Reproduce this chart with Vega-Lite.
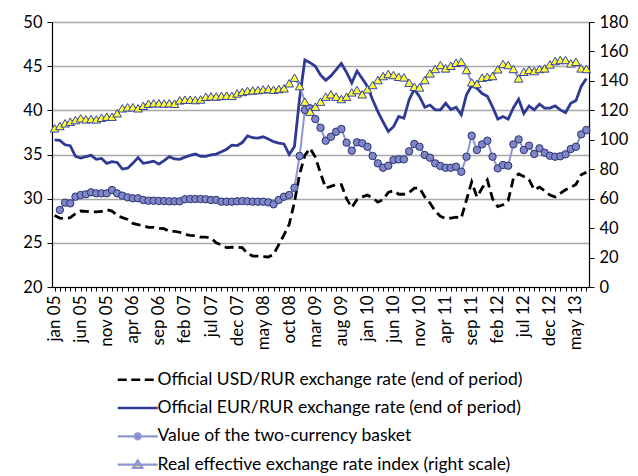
{
  "$schema": "https://vega.github.io/schema/vega-lite/v6.json",
  "width": 537,
  "height": 265,
  "autosize": {"type": "none"},
  "padding": {"left": 52, "top": 22, "right": 49, "bottom": 189},
  "background": "white",
  "config": {
    "view": {"stroke": null},
    "font": "Lato",
    "axis": {"labelFont": "Lato", "labelColor": "black", "domainColor": "black", "tickColor": "black", "titleFont": "Lato"}
  },
  "data": {
    "values": [
      {"m": "jan 05", "u": 28.1, "e": 36.65, "r": 107.8},
      {"m": "feb 05", "u": 27.8, "e": 36.6, "b": 28.72, "r": 109.4},
      {"m": "mar 05", "u": 27.75, "e": 36.1, "b": 29.55, "r": 111.2},
      {"m": "apr 05", "u": 27.85, "e": 36.0, "b": 29.47, "r": 112.3},
      {"m": "may 05", "u": 28.3, "e": 34.8, "b": 30.22, "r": 113.4},
      {"m": "jun 05", "u": 28.6, "e": 34.6, "b": 30.41, "r": 114.6},
      {"m": "jul 05", "u": 28.55, "e": 34.75, "b": 30.49, "r": 113.9},
      {"m": "aug 05", "u": 28.5, "e": 34.9, "b": 30.72, "r": 114.1},
      {"m": "sep 05", "u": 28.5, "e": 34.45, "b": 30.6, "r": 113.9},
      {"m": "oct 05", "u": 28.55, "e": 34.55, "b": 30.6, "r": 115.0},
      {"m": "nov 05", "u": 28.75, "e": 34.0, "b": 30.6, "r": 115.7},
      {"m": "dec 05", "u": 28.6, "e": 34.2, "b": 30.98, "r": 115.7},
      {"m": "jan 06", "u": 28.1, "e": 34.1, "b": 30.6, "r": 118.0},
      {"m": "feb 06", "u": 27.85, "e": 33.35, "b": 30.34, "r": 121.4},
      {"m": "mar 06", "u": 27.65, "e": 33.45, "b": 30.15, "r": 122.1},
      {"m": "apr 06", "u": 27.2, "e": 34.0, "b": 30.04, "r": 122.1},
      {"m": "may 06", "u": 27.05, "e": 34.65, "b": 30.04, "r": 121.4},
      {"m": "jun 06", "u": 26.95, "e": 34.0, "b": 29.85, "r": 123.1},
      {"m": "jul 06", "u": 26.75, "e": 34.1, "b": 29.77, "r": 124.5},
      {"m": "aug 06", "u": 26.75, "e": 34.25, "b": 29.77, "r": 124.8},
      {"m": "sep 06", "u": 26.65, "e": 33.9, "b": 29.75, "r": 124.8},
      {"m": "oct 06", "u": 26.6, "e": 34.3, "b": 29.73, "r": 124.6},
      {"m": "nov 06", "u": 26.3, "e": 34.75, "b": 29.7, "r": 124.8},
      {"m": "dec 06", "u": 26.3, "e": 34.5, "b": 29.7, "r": 124.5},
      {"m": "jan 07", "u": 26.2, "e": 34.45, "b": 29.7, "r": 126.8},
      {"m": "feb 07", "u": 25.95, "e": 34.7, "b": 29.93, "r": 127.2},
      {"m": "mar 07", "u": 25.85, "e": 34.9, "b": 29.96, "r": 127.2},
      {"m": "apr 07", "u": 25.8, "e": 35.05, "b": 29.96, "r": 127.0},
      {"m": "may 07", "u": 25.65, "e": 34.8, "b": 29.96, "r": 127.4},
      {"m": "jun 07", "u": 25.65, "e": 34.8, "b": 29.93, "r": 129.2},
      {"m": "jul 07", "u": 25.55, "e": 34.95, "b": 29.85, "r": 129.5},
      {"m": "aug 07", "u": 25.0, "e": 35.05, "b": 29.85, "r": 129.4},
      {"m": "sep 07", "u": 24.75, "e": 35.3, "b": 29.66, "r": 129.8},
      {"m": "oct 07", "u": 24.45, "e": 35.6, "b": 29.66, "r": 130.0},
      {"m": "nov 07", "u": 24.5, "e": 36.05, "b": 29.66, "r": 129.8},
      {"m": "dec 07", "u": 24.5, "e": 36.0, "b": 29.7, "r": 131.5},
      {"m": "jan 08", "u": 24.45, "e": 36.35, "b": 29.73, "r": 132.5},
      {"m": "feb 08", "u": 23.8, "e": 37.1, "b": 29.7, "r": 133.2},
      {"m": "mar 08", "u": 23.5, "e": 36.9, "b": 29.66, "r": 133.5},
      {"m": "apr 08", "u": 23.5, "e": 36.85, "b": 29.66, "r": 133.8},
      {"m": "may 08", "u": 23.45, "e": 37.0, "b": 29.66, "r": 134.2},
      {"m": "jun 08", "u": 23.4, "e": 36.75, "b": 29.58, "r": 134.5},
      {"m": "jul 08", "u": 23.7, "e": 36.45, "b": 29.36, "r": 134.0},
      {"m": "aug 08", "u": 24.8, "e": 36.3, "b": 29.85, "r": 134.5},
      {"m": "sep 08", "u": 25.9, "e": 36.2, "b": 30.22, "r": 135.0},
      {"m": "oct 08", "u": 27.1, "e": 35.0, "b": 30.41, "r": 138.4},
      {"m": "nov 08", "u": 29.6, "e": 35.9, "b": 31.24, "r": 142.2},
      {"m": "dec 08", "u": 32.8, "e": 41.4, "b": 34.83, "r": 136.5},
      {"m": "jan 09", "u": 34.9, "e": 45.7, "b": 40.04, "r": 125.9},
      {"m": "feb 09", "u": 35.7, "e": 45.4, "b": 40.23, "r": 119.1},
      {"m": "mar 09", "u": 34.7, "e": 45.0, "b": 39.02, "r": 122.5},
      {"m": "apr 09", "u": 32.9, "e": 44.0, "b": 38.03, "r": 125.9},
      {"m": "may 09", "u": 31.2, "e": 43.4, "b": 36.56, "r": 129.3},
      {"m": "jun 09", "u": 31.4, "e": 43.9, "b": 37.01, "r": 130.9},
      {"m": "jul 09", "u": 31.6, "e": 44.6, "b": 37.58, "r": 129.3},
      {"m": "aug 09", "u": 31.6, "e": 45.3, "b": 37.89, "r": 127.7},
      {"m": "sep 09", "u": 30.0, "e": 44.3, "b": 36.34, "r": 129.3},
      {"m": "oct 09", "u": 29.0, "e": 43.1, "b": 35.43, "r": 132.2},
      {"m": "nov 09", "u": 29.9, "e": 44.45, "b": 36.38, "r": 133.8},
      {"m": "dec 09", "u": 30.2, "e": 43.6, "b": 36.27, "r": 130.9},
      {"m": "jan 10", "u": 30.4, "e": 42.7, "b": 35.88, "r": 134.3},
      {"m": "feb 10", "u": 30.1, "e": 41.2, "b": 34.83, "r": 137.2},
      {"m": "mar 10", "u": 29.6, "e": 39.85, "b": 34.0, "r": 140.6},
      {"m": "apr 10", "u": 29.9, "e": 38.7, "b": 33.5, "r": 143.3},
      {"m": "may 10", "u": 30.7, "e": 37.6, "b": 33.73, "r": 144.7},
      {"m": "jun 10", "u": 30.9, "e": 38.15, "b": 34.38, "r": 144.0},
      {"m": "jul 10", "u": 30.5, "e": 39.3, "b": 34.45, "r": 142.8},
      {"m": "aug 10", "u": 30.5, "e": 39.1, "b": 34.45, "r": 142.4},
      {"m": "sep 10", "u": 30.7, "e": 41.2, "b": 35.36, "r": 138.8},
      {"m": "oct 10", "u": 31.2, "e": 42.4, "b": 36.19, "r": 136.0},
      {"m": "nov 10", "u": 31.2, "e": 41.55, "b": 35.88, "r": 135.6},
      {"m": "dec 10", "u": 30.2, "e": 40.35, "b": 34.94, "r": 140.6},
      {"m": "jan 11", "u": 29.5, "e": 40.6, "b": 34.64, "r": 145.1},
      {"m": "feb 11", "u": 28.6, "e": 40.05, "b": 34.0, "r": 148.1},
      {"m": "mar 11", "u": 28.0, "e": 40.05, "b": 33.7, "r": 150.8},
      {"m": "apr 11", "u": 27.75, "e": 40.8, "b": 33.5, "r": 148.5},
      {"m": "may 11", "u": 27.8, "e": 40.1, "b": 33.5, "r": 150.3},
      {"m": "jun 11", "u": 27.9, "e": 40.35, "b": 33.62, "r": 152.3},
      {"m": "jul 11", "u": 27.8, "e": 39.5, "b": 33.05, "r": 153.0},
      {"m": "aug 11", "u": 29.85, "e": 41.75, "b": 34.75, "r": 147.4},
      {"m": "sep 11", "u": 31.9, "e": 42.8, "b": 37.13, "r": 139.0},
      {"m": "oct 11", "u": 30.2, "e": 42.5, "b": 35.51, "r": 137.9},
      {"m": "nov 11", "u": 31.2, "e": 41.9, "b": 36.15, "r": 142.2},
      {"m": "dec 11", "u": 32.1, "e": 41.6, "b": 36.56, "r": 142.8},
      {"m": "jan 12", "u": 30.0, "e": 40.4, "b": 34.75, "r": 143.3},
      {"m": "feb 12", "u": 29.1, "e": 39.0, "b": 33.43, "r": 147.9},
      {"m": "mar 12", "u": 29.3, "e": 39.3, "b": 33.81, "r": 151.5},
      {"m": "apr 12", "u": 29.8, "e": 39.0, "b": 33.73, "r": 150.8},
      {"m": "may 12", "u": 32.3, "e": 40.3, "b": 36.15, "r": 148.1},
      {"m": "jun 12", "u": 32.8, "e": 41.25, "b": 36.71, "r": 141.7},
      {"m": "jul 12", "u": 32.5, "e": 39.65, "b": 35.51, "r": 146.2},
      {"m": "aug 12", "u": 32.15, "e": 40.5, "b": 36.0, "r": 147.4},
      {"m": "sep 12", "u": 31.0, "e": 40.05, "b": 35.06, "r": 146.7},
      {"m": "oct 12", "u": 31.3, "e": 40.7, "b": 35.7, "r": 148.1},
      {"m": "nov 12", "u": 30.9, "e": 40.25, "b": 35.2, "r": 148.5},
      {"m": "dec 12", "u": 30.4, "e": 40.25, "b": 34.86, "r": 151.2},
      {"m": "jan 13", "u": 30.2, "e": 40.5, "b": 34.75, "r": 153.5},
      {"m": "feb 13", "u": 30.6, "e": 40.05, "b": 34.8, "r": 154.2},
      {"m": "mar 13", "u": 31.0, "e": 39.75, "b": 35.02, "r": 154.2},
      {"m": "apr 13", "u": 31.3, "e": 40.8, "b": 35.62, "r": 151.9},
      {"m": "may 13", "u": 31.6, "e": 41.1, "b": 35.88, "r": 153.0},
      {"m": "jun 13", "u": 32.7, "e": 42.7, "b": 37.28, "r": 148.5},
      {"m": "jul 13", "u": 33.0, "e": 43.6, "b": 37.77, "r": 148.1}
    ]
  },
  "encoding": {
    "x": {
      "field": "m",
      "type": "ordinal",
      "sort": null,
      "title": null,
      "scale": {"type": "point", "padding": 0.5},
      "axis": {
        "labelAngle": -90,
        "labelFontSize": 17,
        "labelPadding": 4,
        "labelOverlap": false,
        "tickSize": 4,
        "tickWidth": 1,
        "domainWidth": 1.2,
        "grid": false,
        "labelExpr": "indexof(['jan 05','jun 05','nov 05','apr 06','sep 06','feb 07','jul 07','dec 07','may 08','oct 08','mar 09','aug 09','jan 10','jun 10','nov 10','apr 11','sep 11','feb 12','jul 12','dec 12','may 13'], datum.value) >= 0 ? datum.value : ''"
      }
    }
  },
  "layer": [
    {
      "layer": [
        {
          "mark": {"type": "line", "strokeWidth": 2.8, "strokeDash": [9, 5]},
          "encoding": {
            "y": {
              "field": "u",
              "type": "quantitative",
              "title": null,
              "scale": {"domain": [20, 50], "nice": false, "zero": false},
              "axis": {
                "values": [20, 25, 30, 35, 40, 45, 50],
                "grid": true,
                "gridColor": "#A8A8A8",
                "gridWidth": 1.5,
                "labelFontSize": 16.5,
                "labelPadding": 5,
                "labelOverlap": false,
                "tickSize": 5,
                "domainWidth": 1.2
              }
            },
            "color": {
              "datum": "Official USD/RUR exchange rate (end of period)",
              "scale": {
                "domain": [
                  "Official USD/RUR exchange rate (end of period)",
                  "Official EUR/RUR exchange rate (end of period)",
                  "Value of the two-currency basket",
                  "Real effective exchange rate index (right scale)"
                ],
                "range": ["#000000", "#2E3A94", "#8E95D0", "#8E95D0"]
              },
              "legend": {
                "orient": "none",
                "legendX": 77,
                "legendY": 349,
                "direction": "vertical",
                "title": null,
                "padding": 0,
                "symbolSize": 100,
                "symbolStrokeWidth": 2.4,
                "labelFontSize": 17.5,
                "labelFont": "Lato",
                "labelColor": "black",
                "labelOffset": 11,
                "labelLimit": 600,
                "rowPadding": 9.3,
                "encode": {
                  "symbols": {
                    "update": {
                      "shape": {"signal": "indexof(datum.value,'USD')>=0 ? 'M-4,0H-2.2M-1.3,0H0.5M1.4,0H3.2' : indexof(datum.value,'EUR')>=0 ? 'M-4,0H4' : indexof(datum.value,'basket')>=0 ? 'M-4,0H-0.6M0.6,0H4M0.6,0L0.42,0.42L0,0.6L-0.42,0.42L-0.6,0L-0.42,-0.42L0,-0.6L0.42,-0.42Z' : 'M-4,0H4M0,-0.8L0.9,0.65L-0.9,0.65Z'"},
                      "fill": {"signal": "indexof(datum.value,'basket')>=0 ? '#8087C6' : indexof(datum.value,'Real')>=0 ? '#FFFF33' : 'rgba(0,0,0,0)'"}
                    }
                  }
                }
              }
            }
          }
        },
        {
          "mark": {"type": "line", "strokeWidth": 2.8},
          "encoding": {
            "y": {"field": "e", "type": "quantitative", "title": null},
            "color": {"datum": "Official EUR/RUR exchange rate (end of period)"}
          }
        },
        {
          "mark": {"type": "line", "strokeWidth": 2},
          "encoding": {
            "y": {"field": "b", "type": "quantitative", "title": null},
            "color": {"datum": "Value of the two-currency basket"}
          }
        },
        {
          "mark": {"type": "point", "shape": "circle", "filled": true, "fill": "#8087C6", "stroke": "#2B3275", "strokeWidth": 1, "size": 55, "opacity": 1},
          "encoding": {
            "y": {"field": "b", "type": "quantitative", "title": null}
          }
        }
      ]
    },
    {
      "encoding": {
        "y": {
          "field": "r",
          "type": "quantitative",
          "title": null,
          "scale": {"domain": [0, 180], "nice": false},
          "axis": {
            "orient": "right",
            "values": [0, 20, 40, 60, 80, 100, 120, 140, 160, 180],
            "grid": false,
            "labelFontSize": 16.5,
            "labelPadding": 5,
            "labelOverlap": false,
            "tickSize": 5,
            "domainWidth": 1.2
          }
        }
      },
      "layer": [
        {
          "mark": {"type": "line", "strokeWidth": 2},
          "encoding": {
            "color": {"datum": "Real effective exchange rate index (right scale)"}
          }
        },
        {
          "mark": {"type": "point", "shape": "triangle-up", "filled": true, "fill": "#FFFF33", "stroke": "#3343A8", "strokeWidth": 1, "size": 75, "opacity": 1}
        }
      ]
    }
  ],
  "resolve": {"scale": {"y": "independent"}}
}
